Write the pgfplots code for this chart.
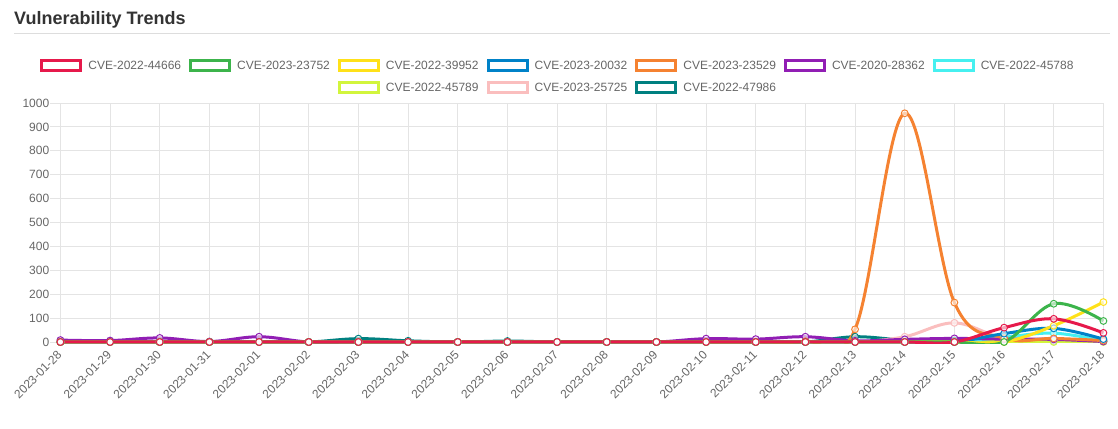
\documentclass[border=0pt]{standalone}
\usepackage{pgfplots}
\pgfplotsset{compat=1.18}
\usepackage{fontspec}
\setmainfont{Liberation Sans}
\definecolor{cRed}{HTML}{E6194B}
\definecolor{cGreen}{HTML}{3CB44B}
\definecolor{cYellow}{HTML}{FFE119}
\definecolor{cBlue}{HTML}{0082C8}
\definecolor{cOrange}{HTML}{F58231}
\definecolor{cPurple}{HTML}{911EB4}
\definecolor{cCyan}{HTML}{46F0F0}
\definecolor{cLime}{HTML}{D2F53C}
\definecolor{cPink}{HTML}{FABEBE}
\definecolor{cTeal}{HTML}{008080}
\definecolor{cGrid}{HTML}{E4E4E4}
\definecolor{cZero}{HTML}{C8C8C8}
\definecolor{cText}{HTML}{666666}
\definecolor{cTitle}{HTML}{333333}
\definecolor{cRule}{HTML}{DDDDDD}
\begin{document}
\begin{tikzpicture}
\path[use as bounding box] (0pt,0pt) rectangle (1118pt,428pt);
\node[anchor=base west, font=\fontsize{18}{20}\selectfont\bfseries, text=cTitle, inner sep=0pt] at (14pt,403pt) {Vulnerability Trends};
\draw[cRule, line width=1pt] (14pt,394pt) -- (1110pt,394pt);
\begin{axis}[
  at={(60.4pt,86pt)}, anchor=south west, scale only axis,
  width=1043pt, height=239pt,
  xmin=0, xmax=21, ymin=0, ymax=1000,
  xtick={0,...,21},
  xticklabels={2023-01-28,2023-01-29,2023-01-30,2023-01-31,2023-02-01,2023-02-02,2023-02-03,2023-02-04,2023-02-05,2023-02-06,2023-02-07,2023-02-08,2023-02-09,2023-02-10,2023-02-11,2023-02-12,2023-02-13,2023-02-14,2023-02-15,2023-02-16,2023-02-17,2023-02-18},
  ytick={0,100,...,1000},
  /pgf/number format/1000 sep={},
  /pgf/number format/assume math mode=true,
  grid=major, grid style={cGrid, line width=0.9pt},
  axis line style={cGrid, line width=0.9pt},
  tick label style={font=\fontsize{12}{14}\selectfont, text=cText},
  xticklabel style={rotate=45, anchor=east, inner sep=1pt},
  yticklabel style={inner sep=1pt},
  tick align=outside, xtick pos=bottom, ytick pos=left,
  major tick length=10pt,
  x tick style={draw=none},
  y tick style={cGrid, line width=0.9pt},
  clip=false,
  legend columns=7, reverse legend, legend cell align=left,
  legend style={at={(rel axis cs:0.4761,1.184)}, anchor=north, draw=none, fill=none,
    inner sep=0pt, font=\fontsize{12}{14}\selectfont, text=cText,
    nodes={inner sep=0pt}, row sep=9pt,
    /tikz/every odd column/.style={column sep=6pt},
    /tikz/every even column/.style={column sep=8pt}},
  legend image code/.code={\draw[line width=3pt, fill=white] (0pt,-5pt) rectangle (39pt,5pt);},
  every axis plot/.append style={line width=3pt, smooth, tension=0.6,
    mark=*, mark size=3.4pt, mark options={solid, line width=1pt, fill=white, fill opacity=0.6}},
]
\draw[cZero, line width=1pt] (axis cs:0,0) -- (axis cs:21,0);
\begin{scope}
\clip (rel axis cs:-0.02,0) ++(0pt,-1.6pt) rectangle (rel axis cs:1.02,1.05);
\addplot[cTeal] coordinates {(0,0)(1,0)(2,0)(3,0)(4,0)(5,0)(6,14)(7,5)(8,0)(9,4)(10,0)(11,0)(12,0)(13,0)(14,0)(15,0)(16,22)(17,8)(18,6)(19,12)(20,5)(21,3)};
\addlegendentry{CVE-2022-47986}
\addplot[cPink] coordinates {(0,0)(1,0)(2,0)(3,0)(4,0)(5,0)(6,0)(7,0)(8,0)(9,0)(10,0)(11,0)(12,0)(13,0)(14,0)(15,0)(16,0)(17,22)(18,80)(19,15)(20,8)(21,3)};
\addlegendentry{CVE-2023-25725}
\addplot[cLime] coordinates {(0,0)(1,0)(2,0)(3,0)(4,0)(5,0)(6,0)(7,0)(8,0)(9,0)(10,0)(11,0)(12,0)(13,0)(14,0)(15,0)(16,0)(17,0)(18,0)(19,0)(20,0)(21,0)};
\addlegendentry{CVE-2022-45789}
\addlegendimage{empty legend}\addlegendentry{}
\addlegendimage{empty legend}\addlegendentry{}
\addplot[cCyan] coordinates {(0,0)(1,0)(2,0)(3,0)(4,0)(5,0)(6,0)(7,0)(8,0)(9,0)(10,0)(11,0)(12,0)(13,0)(14,0)(15,0)(16,0)(17,0)(18,0)(19,20)(20,37)(21,5)};
\addlegendentry{CVE-2022-45788}
\addplot[cPurple] coordinates {(0,8)(1,6)(2,17)(3,2)(4,22)(5,0)(6,0)(7,0)(8,0)(9,0)(10,0)(11,0)(12,0)(13,14)(14,12)(15,22)(16,5)(17,11)(18,15)(19,12)(20,11)(21,2)};
\addlegendentry{CVE-2020-28362}
\addplot[cOrange] coordinates {(0,0)(1,0)(2,0)(3,0)(4,0)(5,0)(6,0)(7,0)(8,0)(9,0)(10,0)(11,0)(12,0)(13,0)(14,0)(15,3)(16,53)(17,957)(18,165)(19,16)(20,15)(21,6)};
\addlegendentry{CVE-2023-23529}
\addplot[cBlue] coordinates {(0,0)(1,0)(2,0)(3,0)(4,0)(5,0)(6,0)(7,0)(8,0)(9,0)(10,0)(11,0)(12,0)(13,0)(14,0)(15,0)(16,0)(17,0)(18,0)(19,35)(20,57)(21,12)};
\addlegendentry{CVE-2023-20032}
\addplot[cYellow] coordinates {(0,0)(1,0)(2,0)(3,0)(4,0)(5,0)(6,0)(7,0)(8,0)(9,0)(10,0)(11,0)(12,0)(13,0)(14,0)(15,0)(16,0)(17,0)(18,0)(19,0)(20,68)(21,167)};
\addlegendentry{CVE-2022-39952}
\addplot[cGreen] coordinates {(0,0)(1,0)(2,0)(3,0)(4,0)(5,0)(6,0)(7,0)(8,0)(9,0)(10,0)(11,0)(12,0)(13,0)(14,0)(15,0)(16,0)(17,0)(18,0)(19,0)(20,160)(21,88)};
\addlegendentry{CVE-2023-23752}
\addplot[cRed] coordinates {(0,0)(1,0)(2,0)(3,0)(4,0)(5,0)(6,0)(7,0)(8,0)(9,0)(10,0)(11,0)(12,0)(13,0)(14,0)(15,0)(16,0)(17,0)(18,0)(19,60)(20,97)(21,38)};
\addlegendentry{CVE-2022-44666}
\end{scope}
\end{axis}
\end{tikzpicture}
\end{document}
